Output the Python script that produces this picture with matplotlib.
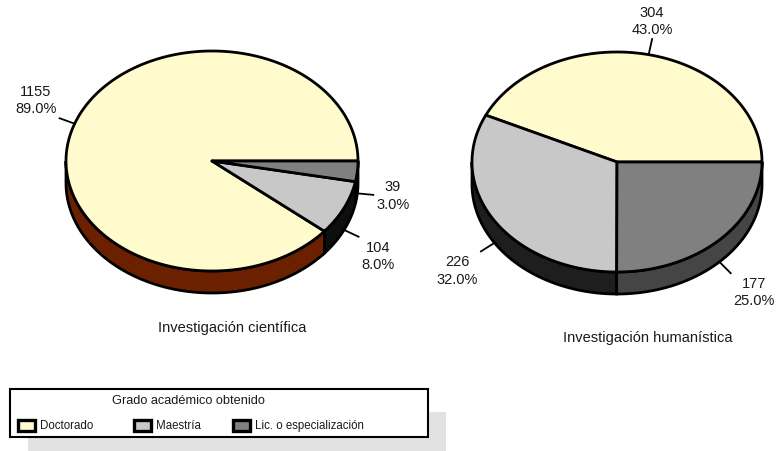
import numpy as np
import matplotlib.pyplot as plt
from matplotlib.patches import Polygon, Rectangle

plt.rcParams['font.family'] = ['Liberation Sans', 'DejaVu Sans']

# =============================================
# DATA
# =============================================
categorias = ["Doctorado", "Maestría", "Lic. o especialización"]
cientifica = [1155, 104, 39]
humanistica = [304, 226, 177]
titulos = ["Investigación científica", "Investigación humanística"]

top_colors = ["#FFFBCC", "#C8C8C8", "#808080"]
side_left = ["#6B2100", "#0E0E0E", "#1A1A1A"]
side_right = ["#6B2100", "#1E1E1E", "#454545"]

# =============================================
# FIGURE (pixel coordinates)
# =============================================
fig = plt.figure(figsize=(7.76, 4.52), dpi=100)
ax = fig.add_axes([0, 0, 1, 1])
ax.set_xlim(0, 776)
ax.set_ylim(452, 0)
ax.axis('off')


def ell(cx, cy, rx, ry, t):
    return cx + rx * np.cos(t), cy - ry * np.sin(t)


def pie3d(values, cx, cy, rx, ry, depth, sides, title, title_xy):
    values = np.array(values, dtype=float)
    frac = values / values.sum()
    edges = np.concatenate([[0], np.cumsum(frac)]) * 2 * np.pi

    # paredes laterales (solo mitad frontal)
    for i in range(len(values)):
        a0 = max(edges[i], np.pi)
        a1 = min(edges[i + 1], 2 * np.pi)
        if a1 <= a0:
            continue
        t = np.linspace(a0, a1, 100)
        x, y = ell(cx, cy, rx, ry, t)
        pts = np.column_stack([np.r_[x, x[::-1]], np.r_[y, y[::-1] + depth]])
        ax.add_patch(Polygon(pts, closed=True, facecolor=sides[i],
                             edgecolor='black', lw=2, zorder=2))

    # cara superior
    for i in range(len(values)):
        t = np.linspace(edges[i], edges[i + 1], 200)
        x, y = ell(cx, cy, rx, ry, t)
        pts = np.column_stack([np.r_[cx, x], np.r_[cy, y]])
        ax.add_patch(Polygon(pts, closed=True, facecolor=top_colors[i],
                             edgecolor='black', lw=2, joinstyle='round',
                             zorder=3))

    # etiquetas
    for i in range(len(values)):
        m = (edges[i] + edges[i + 1]) / 2
        c, s = np.cos(m), np.sin(m)
        x0, y0 = ell(cx, cy, rx, ry, m)
        if s < 0:
            y0 += depth
        x1, y1 = x0 + 16 * c, y0 - 16 * s
        ax.plot([x0, x1], [y0, y1], color='black', lw=1.3, zorder=4)
        ha = 'center' if abs(c) < 0.3 else ('left' if c > 0 else 'right')
        va = 'center' if abs(s) < 0.3 else ('bottom' if s > 0 else 'top')
        ax.text(x1 + 3 * np.sign(c) * (abs(c) >= 0.3), y1 - 3 * np.sign(s) * (abs(s) >= 0.3),
                f"{int(values[i])}\n{frac[i] * 100:.1f}%", ha=ha, va=va,
                multialignment='center', fontsize=10.5, color='#1A1A1A',
                linespacing=1.3, zorder=5)

    ax.text(title_xy[0], title_xy[1], title, ha='center', va='center',
            fontsize=10.5, color='#1A1A1A')


pie3d(cientifica, 212, 162, 146, 110, 22, side_left, titulos[0], (232, 328))
pie3d(humanistica, 617, 163, 145, 110, 22, side_right, titulos[1], (648, 338))

# =============================================
# LEYENDA (manual, estilo Excel)
# =============================================
ax.add_patch(Rectangle((28, 413), 418, 39, facecolor='#E2E2E2',
                       edgecolor='none', zorder=1))
ax.add_patch(Rectangle((10, 390), 418, 48, facecolor='white',
                       edgecolor='black', lw=1.5, zorder=2))
ax.text(188, 401, "Grado académico obtenido", ha='center', va='center',
        fontsize=9.2, color='#1A1A1A', zorder=3)
leg_x = [18, 134, 233]
for i, cat in enumerate(categorias):
    ax.add_patch(Rectangle((leg_x[i], 421), 17, 11, facecolor=top_colors[i],
                           edgecolor='black', lw=2.4, zorder=3))
    ax.text(leg_x[i] + 22, 426, cat, ha='left', va='center',
            fontsize=8.3, color='#1A1A1A', zorder=3)

fig.savefig("out.png", dpi=100)
